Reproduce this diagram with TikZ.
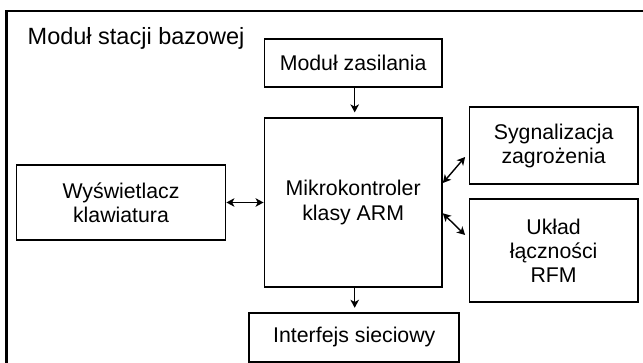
\documentclass[tikz,border=0pt]{standalone}
\usepackage{fontspec}
\setmainfont{Liberation Sans}
\usepackage{tikz}
\usetikzlibrary{arrows.meta, positioning}

\begin{document}
\begin{tikzpicture}[
    x=1pt, y=1pt,
    block/.style={rectangle, draw=black, line width=1.8pt, align=center, inner sep=2pt, font=\fontsize{21.3}{24}\selectfont},
    link/.style={line width=1.4pt, -{Stealth[length=8pt, width=8.5pt, inset=2.2pt]}},
    biglink/.style={line width=1.4pt, {Stealth[length=8pt, width=8.5pt, inset=2.2pt]}-{Stealth[length=8pt, width=8.5pt, inset=2.2pt]}}
]
    \useasboundingbox (0, 0) rectangle (643, 363);

    % Outer frame and title
    \draw [line width=2.2pt] (6.5, -10) |- (660, 352);
    \node (title) [anchor=base west, inner sep=0pt, font=\fontsize{23.5}{26}\selectfont] at (27.5, 318.7) {Moduł stacji bazowej};

    % Blocks
    \node (zas) [block, minimum width=177.5, minimum height=48] at (353.2, 299.7) {Moduł zasilania};
    \node (mcu) [block, minimum width=177.5, minimum height=168.4] at (353.2, 160.5) {Mikrokontroler\\klasy ARM};
    \node (disp) [block, minimum width=209, minimum height=75] at (121, 160.5) {Wyświetlacz\\klawiatura};
    \node (alarm) [block, minimum width=168.2, minimum height=77] at (553.6, 217.2) {Sygnalizacja\\zagrożenia};
    \node (rfm) [block, minimum width=168.2, minimum height=103] at (553.6, 112.2) {Układ\\łączności\\RFM};
    \node (net) [block, minimum width=210, minimum height=49] at (354.3, 25.8) {Interfejs sieciowy};

    % Connections
    \draw [link, shorten >=5pt] ([xshift=1.5pt]zas.south) -- ([xshift=1.5pt]zas.south |- mcu.north);
    \draw [link, shorten >=4pt] ([xshift=1.5pt]mcu.south) -- ([xshift=1.5pt]mcu.south |- net.north);
    \draw [biglink] (disp.east) -- (mcu.west);
    \draw [biglink] ([yshift=19.5pt]mcu.east) -- ([xshift=-3.5pt, yshift=-11.2pt]alarm.west);
    \draw [biglink] ([yshift=-10.8pt]mcu.east) -- ([xshift=-3.5pt, yshift=15.8pt]rfm.west);

\end{tikzpicture}
\end{document}
